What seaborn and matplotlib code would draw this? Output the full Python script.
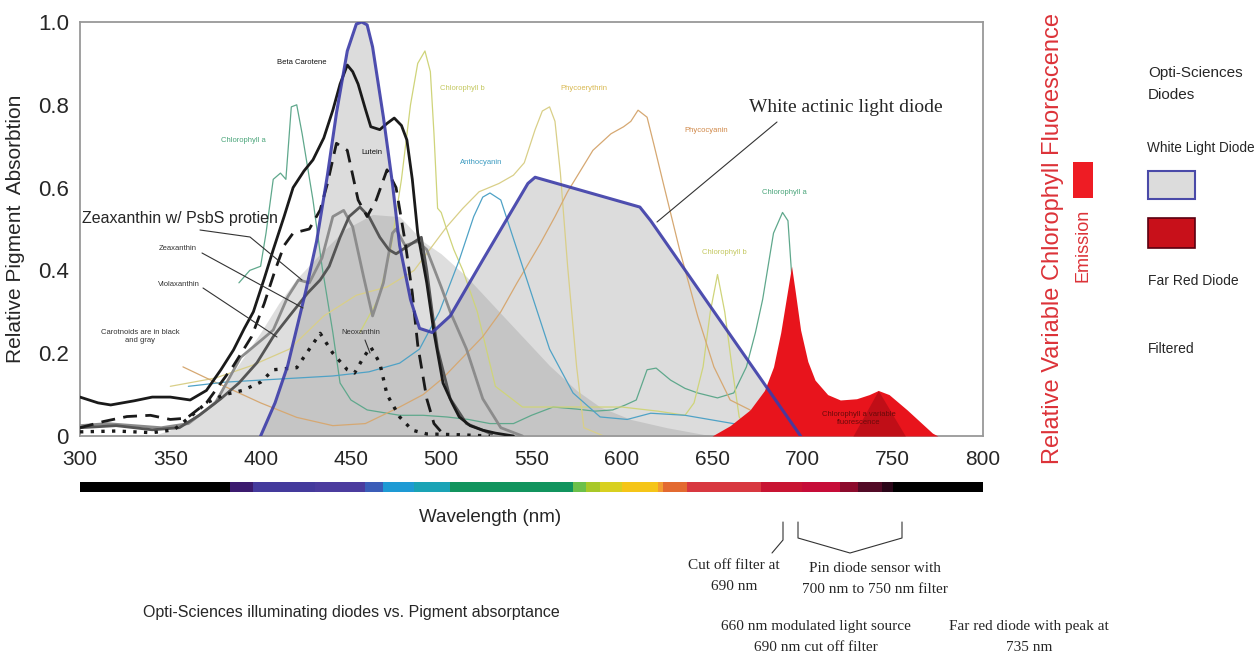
#!/usr/bin/env python3
"""
Opti-Sciences diodes vs. pigment absorptance chart
"""

import matplotlib
matplotlib.use("Agg")
import matplotlib.pyplot as plt
from matplotlib import font_manager
from matplotlib.patches import Rectangle
import numpy as np
import seaborn as sns

sns.set_style("white")
plt.rcParams['font.family'] = ['Liberation Sans', 'DejaVu Sans']

_names = {f.name for f in font_manager.fontManager.ttflist}
NARROW = 'Liberation Sans Narrow' if 'Liberation Sans Narrow' in _names else 'Liberation Sans'
SERIF = 'Liberation Serif'

# ---- data (wavelength nm, relative absorption) ----
beta_wl = [300, 310, 317, 330, 340, 350, 361, 370, 378, 385, 391, 396, 402, 407, 413, 418, 424, 429,
           435, 440, 444, 448, 451, 454, 458, 461, 466, 470, 474, 478, 481, 484, 487, 492, 496, 501,
           506, 510, 516, 523, 530, 540]
beta_val = [0.094, 0.08, 0.075, 0.085, 0.094, 0.094, 0.087, 0.11, 0.16, 0.208, 0.26, 0.30, 0.38, 0.45,
            0.53, 0.60, 0.64, 0.667, 0.72, 0.787, 0.85, 0.896, 0.88, 0.85, 0.79, 0.747, 0.74, 0.755,
            0.768, 0.75, 0.715, 0.62, 0.49, 0.37, 0.25, 0.128, 0.08, 0.046, 0.025, 0.014, 0.007, 0.0]

lutein_wl = [300, 313, 326, 339, 350, 359, 370, 385, 395, 402, 408, 413, 418, 427, 433, 437, 442, 448,
             454, 459, 464, 470, 475, 480, 484, 487, 492, 496, 500]
lutein_val = [0.02, 0.035, 0.047, 0.05, 0.04, 0.043, 0.08, 0.17, 0.24, 0.32, 0.40, 0.46, 0.49, 0.50,
              0.546, 0.61, 0.707, 0.69, 0.57, 0.53, 0.57, 0.643, 0.60, 0.47, 0.345, 0.22, 0.09, 0.03, 0.01]

zea_wl = [300, 320, 340, 355, 366, 378, 388, 398, 407, 416, 426, 433, 438, 444, 449, 455, 460, 466,
          471, 475, 482, 489, 492, 495, 498, 505, 514, 528]
zea_val = [0.02, 0.025, 0.015, 0.02, 0.05, 0.09, 0.128, 0.177, 0.24, 0.29, 0.345, 0.377, 0.41, 0.48,
           0.53, 0.553, 0.53, 0.48, 0.45, 0.44, 0.46, 0.48, 0.40, 0.30, 0.21, 0.09, 0.03, 0.005]

viola_wl = [300, 315, 330, 345, 360, 375, 389, 400, 407, 415, 421, 427, 434, 440, 446, 451, 457, 462,
            468, 473, 475, 480, 487, 492, 500, 505, 514, 523, 533, 545]
viola_val = [0.025, 0.03, 0.025, 0.02, 0.03, 0.08, 0.19, 0.23, 0.256, 0.336, 0.377, 0.37, 0.43, 0.53,
             0.545, 0.505, 0.385, 0.29, 0.37, 0.49, 0.50, 0.46, 0.47, 0.45, 0.36, 0.30, 0.21, 0.09,
             0.02, 0.0]

neo_wl = [300, 320, 340, 352, 362, 370, 380, 390, 400, 407, 420, 427, 433, 440, 448, 452, 457, 461,
          466, 470, 477, 484, 492, 510, 527]
neo_val = [0.01, 0.012, 0.008, 0.015, 0.05, 0.08, 0.10, 0.11, 0.13, 0.16, 0.165, 0.21, 0.248, 0.20,
           0.16, 0.152, 0.19, 0.215, 0.176, 0.10, 0.046, 0.014, 0.005, 0.003, 0.0]

chla_wl = [388, 394, 400, 403, 407, 411, 414, 417, 420, 423, 429, 434, 440, 444, 450, 459, 477, 490,
           503, 515, 527, 540, 550, 562, 575, 585, 595, 602, 608, 614, 619, 627, 635, 642, 653, 662,
           669, 674, 678, 684, 689, 692, 695, 700, 706, 712]
chla_val = [0.37, 0.40, 0.41, 0.49, 0.62, 0.635, 0.62, 0.795, 0.80, 0.73, 0.57, 0.41, 0.25, 0.128,
            0.087, 0.063, 0.05, 0.05, 0.046, 0.04, 0.03, 0.03, 0.05, 0.07, 0.065, 0.06, 0.063, 0.075,
            0.087, 0.16, 0.164, 0.135, 0.115, 0.104, 0.092, 0.104, 0.167, 0.25, 0.33, 0.49, 0.54,
            0.52, 0.33, 0.087, 0.014, 0.0]

chlb_wl = [455, 465, 472, 478, 483, 487, 491, 494, 496, 498, 500, 503, 507, 512, 520, 530, 545, 560,
           580, 600, 620, 635, 640, 645, 649, 653, 657, 661, 665, 672]
chlb_val = [0.25, 0.33, 0.45, 0.62, 0.80, 0.90, 0.93, 0.88, 0.73, 0.55, 0.54, 0.50, 0.45, 0.40, 0.30,
            0.12, 0.07, 0.07, 0.07, 0.07, 0.06, 0.05, 0.08, 0.167, 0.30, 0.39, 0.30, 0.167, 0.046, 0.0]

phyco_e_wl = [350, 375, 395, 416, 435, 453, 470, 485, 503, 512, 521, 532, 540, 546, 552, 556, 560,
              563, 566, 570, 575, 579, 590]
phyco_e_val = [0.12, 0.14, 0.17, 0.21, 0.29, 0.34, 0.36, 0.40, 0.505, 0.55, 0.59, 0.61, 0.63, 0.66,
               0.74, 0.785, 0.795, 0.76, 0.635, 0.41, 0.167, 0.02, 0.0]

phyco_c_wl = [357, 370, 385, 400, 420, 440, 458, 477, 490, 501, 512, 523, 533, 542, 555, 563, 570,
              577, 584, 594, 601, 605, 609, 614, 618, 623, 632, 642, 651, 660, 671, 680, 690]
phyco_c_val = [0.167, 0.14, 0.11, 0.08, 0.045, 0.025, 0.03, 0.07, 0.10, 0.14, 0.19, 0.24, 0.30, 0.37,
               0.466, 0.53, 0.59, 0.64, 0.69, 0.73, 0.747, 0.76, 0.787, 0.77, 0.70, 0.61, 0.45, 0.29,
               0.167, 0.087, 0.063, 0.014, 0.0]

antho_wl = [360, 380, 400, 420, 440, 460, 477, 488, 499, 510, 518, 523, 527, 533, 542, 551, 560, 573,
            588, 603, 616, 635, 655, 675, 700]
antho_val = [0.12, 0.13, 0.135, 0.14, 0.145, 0.155, 0.176, 0.21, 0.30, 0.425, 0.53, 0.577, 0.587,
             0.57, 0.45, 0.33, 0.21, 0.104, 0.046, 0.04, 0.055, 0.05, 0.035, 0.02, 0.005]

# diodes / emission
white_wl = [400, 408, 415, 425, 431, 437, 442, 448, 453, 456, 459, 462, 468, 473, 477, 483, 488, 495,
            505, 523, 548, 552, 610, 616, 699]
white_val = [0.0, 0.08, 0.17, 0.35, 0.47, 0.63, 0.78, 0.93, 0.995, 1.0, 0.993, 0.94, 0.77, 0.61, 0.46,
             0.33, 0.26, 0.25, 0.29, 0.425, 0.61, 0.625, 0.553, 0.52, 0.0]

shade_wl = [340, 360, 375, 389, 400, 410, 420, 433, 447, 462, 477, 490, 500, 514, 530, 545, 560, 575,
            588, 605, 625, 650]
shade_val = [0.0, 0.03, 0.09, 0.18, 0.25, 0.32, 0.38, 0.44, 0.50, 0.535, 0.53, 0.47, 0.44, 0.385,
             0.31, 0.24, 0.17, 0.11, 0.07, 0.04, 0.02, 0.0]

emis_wl = [650, 660, 671, 679, 684, 688, 691, 694, 696, 699, 703, 707, 714, 721, 730, 737, 742, 748,
           758, 765, 772, 775]
emis_val = [0.0, 0.025, 0.063, 0.11, 0.167, 0.25, 0.33, 0.41, 0.35, 0.256, 0.18, 0.135, 0.10, 0.087,
            0.09, 0.10, 0.11, 0.10, 0.063, 0.035, 0.007, 0.0]

farred_wl = [728, 742, 757]
farred_val = [0.0, 0.11, 0.0]

# spectrum bar under the axis
spec_edges = [300, 383, 396, 430, 458, 468, 485, 505, 573, 580, 588, 600, 620, 623, 636, 677, 700,
              721, 731, 744, 750, 800]
spec_colors = ['#000000', '#3b1a6e', '#443a9c', '#4b3c9e', '#3b5db8', '#1e9ad4', '#1aa3b5', '#11945e',
               '#6cc04a', '#a8c828', '#d8d020', '#f5c518', '#f39c30', '#e36a30', '#d83840', '#c81432',
               '#c60c38', '#8c0a2c', '#520a26', '#2a0618', '#000000']

x_ticks = [300, 350, 400, 450, 500, 550, 600, 650, 700, 750, 800]
y_ticks = [0, 0.2, 0.4, 0.6, 0.8, 1.0]
y_tick_labels = ['0', '0.2', '0.4', '0.6', '0.8', '1.0']

W, H = 1254, 654
fig = plt.figure(figsize=(W / 100, H / 100), dpi=100)
ax = fig.add_axes([80 / W, 1 - 436 / H, 903 / W, 414 / H])

# fills
ax.fill_between(white_wl, white_val, color='#dcdcdc', lw=0, zorder=1)
ax.fill_between(shade_wl, shade_val, color='#8a8a8a', alpha=0.28, lw=0, zorder=1.2)

# thin pigment lines
thin = [(chla_wl, chla_val, '#5fa88c'), (chlb_wl, chlb_val, '#cfd47a'),
        (phyco_e_wl, phyco_e_val, '#d9cf88'), (phyco_c_wl, phyco_c_val, '#d6a872'),
        (antho_wl, antho_val, '#4fa2c6')]
for xs, ys, c in thin:
    sns.lineplot(x=xs, y=ys, ax=ax, color=c, lw=0.9, zorder=2)

# carotenoids
sns.lineplot(x=viola_wl, y=viola_val, ax=ax, color='#8c8c8c', lw=2.0, zorder=3)
sns.lineplot(x=zea_wl, y=zea_val, ax=ax, color='#555555', lw=2.0, zorder=3)
sns.lineplot(x=beta_wl, y=beta_val, ax=ax, color='#1a1a1a', lw=2.0, zorder=3.2)
sns.lineplot(x=lutein_wl, y=lutein_val, ax=ax, color='#1a1a1a', lw=2.0, linestyle=(0, (5, 3)), zorder=3.2)
sns.lineplot(x=neo_wl, y=neo_val, ax=ax, color='#1a1a1a', lw=2.4, linestyle=(0, (1, 2.2)), zorder=3.2)

# chlorophyll emission
ax.fill_between(emis_wl, emis_val, color='#e8141c', lw=0, zorder=3.5)
ax.fill_between(farred_wl, farred_val, color='#a00a14', alpha=0.55, lw=0, zorder=3.6)

# white light diode outline
sns.lineplot(x=white_wl, y=white_val, ax=ax, color='#3c3ca8', lw=2.2, alpha=0.9, zorder=4)

ax.set_xlim(300, 800)
ax.set_ylim(0, 1.0)
ax.set_xticks(x_ticks)
ax.set_xticklabels([str(t) for t in x_ticks], fontsize=15, family=NARROW)
ax.set_yticks(y_ticks)
ax.set_yticklabels(y_tick_labels, fontsize=16)
ax.tick_params(direction='in', length=5, color='#888888', width=1)
ax.tick_params(axis='x', pad=10)
ax.tick_params(axis='y', pad=8)
for s in ax.spines.values():
    s.set_color('#999999')
    s.set_linewidth(1.3)
ax.set_xlabel('')
ax.set_ylabel('Relative Pigment  Absorbtion', fontsize=15)
ax.yaxis.set_label_coords(-0.061, 0.5)

# spectrum bar
axs = fig.add_axes([80 / W, 1 - 492 / H, 903 / W, 10 / H])
axs.bar(spec_edges[:-1], 1, width=np.diff(spec_edges), align='edge', color=spec_colors, lw=0)
axs.set_xlim(300, 800)
axs.set_ylim(0, 1)
axs.set_axis_off()

# overlay for annotations in pixel space
ov = fig.add_axes([0, 0, 1, 1])
ov.set_xlim(0, W)
ov.set_ylim(H, 0)
ov.set_axis_off()

ov.text(490, 517, 'Wavelength (nm)', fontsize=13.5, family=NARROW, ha='center', va='center')

small = dict(fontsize=5.5, ha='center', va='center', family=NARROW)
ov.text(302, 62, 'Beta Carotene', color='#111111', **small)
ov.text(243, 140, 'Chlorophyll a', color='#4aa57a', **small)
ov.text(372, 153, 'Lutein', color='#111111', **small)
ov.text(178, 248, 'Zeaxanthin', color='#333333', **small)
ov.text(179, 285, 'Violaxanthin', color='#333333', **small)
ov.text(140, 337, 'Carotnoids are in black\nand gray', color='#333333', linespacing=1.2, **small)
ov.text(361, 333, 'Neoxanthin', color='#333333', **small)
ov.text(462, 88, 'Chlorophyll b', color='#c4c860', **small)
ov.text(584, 88, 'Phycoerythrin', color='#d8b850', **small)
ov.text(481, 163, 'Anthocyanin', color='#3a9ac0', **small)
ov.text(706, 131, 'Phycocyanin', color='#d08848', **small)
ov.text(784, 193, 'Chlorophyll a', color='#4aa57a', **small)
ov.text(724, 253, 'Chlorophyll b', color='#c4c860', **small)
ov.text(859, 418, 'Chlorophyll a variable\nfluorescence', color='#6a0a0a', linespacing=1.2, **small)

ov.text(180, 218, 'Zeaxanthin w/ PsbS protien', fontsize=11.5, ha='center', va='center')
ov.text(846, 107, 'White actinic light diode', fontsize=14, family=SERIF, ha='center', va='center')

lc = dict(color='#333333', lw=0.8)
ov.plot([777, 657], [122, 222], **lc)
ov.plot([200, 250, 302], [230, 237, 280], **lc)
ov.plot([202, 303], [253, 308], **lc)
ov.plot([203, 277], [288, 337], **lc)
ov.plot([365, 370], [340, 353], **lc)

# right side: emission label
red = '#dc3238'
ov.text(1053, 238, 'Relative Variable Chlorophyll Fluorescence', rotation=90, color=red,
        fontsize=17, ha='center', va='center')
ov.text(1083, 245, 'Emission', rotation=90, color=red, fontsize=13, ha='center', va='center')
ov.add_patch(Rectangle((1073, 162), 20, 36, facecolor='#ee1c24', edgecolor='none'))

# diode legend
ov.text(1148, 84, 'Opti-Sciences\nDiodes', fontsize=11, ha='left', va='center', linespacing=1.8)
ov.text(1147, 148, 'White Light Diode', fontsize=9.8, family=NARROW, ha='left', va='center')
ov.add_patch(Rectangle((1148, 171), 47, 28, facecolor='#dcdcdc', edgecolor='#4a4aa8', lw=1.5))
ov.add_patch(Rectangle((1148, 218), 47, 30, facecolor='#c8101a', edgecolor='#5a0010', lw=1.2))
ov.text(1148, 281, 'Far Red Diode', fontsize=10, family=NARROW, ha='left', va='center')
ov.text(1148, 349, 'Filtered', fontsize=10, family=NARROW, ha='left', va='center')

# filter / sensor notes
ov.plot([783, 783, 772], [522, 540, 553], **lc)
ov.plot([798, 798, 850, 902, 902], [522, 538, 553, 538, 522], **lc)
serif = dict(family=SERIF, fontsize=11, ha='center', va='center', linespacing=1.8)
ov.text(734, 576, 'Cut off filter at\n690 nm', **serif)
ov.text(875, 579, 'Pin diode sensor with\n700 nm to 750 nm filter', **serif)
ov.text(816, 637, '660 nm modulated light source\n690 nm cut off filter', **serif)
ov.text(1029, 637, 'Far red diode with peak at\n735 nm', **serif)

ov.text(351, 612, 'Opti-Sciences illuminating diodes vs. Pigment absorptance', fontsize=11.5,
        family=NARROW, ha='center', va='center')

fig.savefig('out.png', dpi=100)
plt.close(fig)
